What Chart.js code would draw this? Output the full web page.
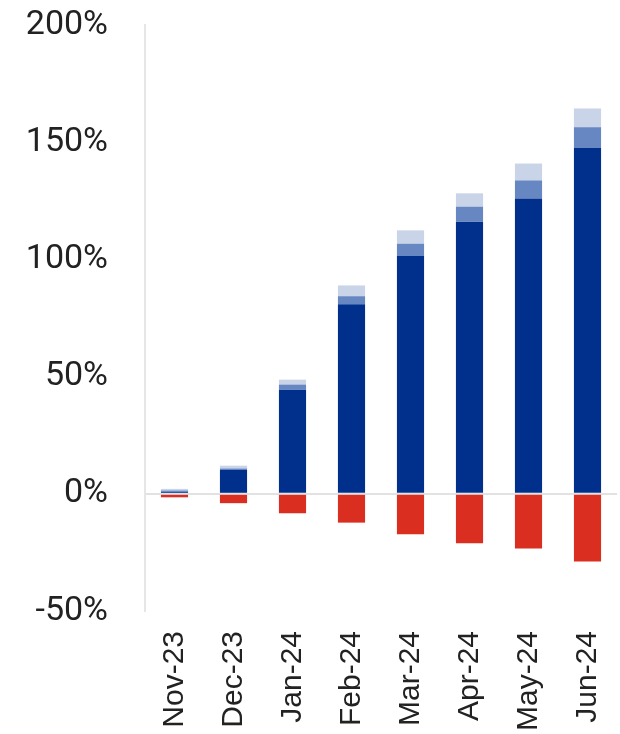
<!DOCTYPE html>
<html>
<head>
<meta charset="utf-8">
<script src="https://cdn.jsdelivr.net/npm/chart.js@4/dist/chart.umd.min.js"></script>
<style>
  html, body { margin: 0; padding: 0; background: #ffffff; }
  #wrap { width: 620px; height: 734px; }
</style>
</head>
<body>
<div id="wrap"><canvas id="c" width="620" height="734"></canvas></div>
<script>
// Monthly cumulative change, in percent
const months = ['Nov-23', 'Dec-23', 'Jan-24', 'Feb-24', 'Mar-24', 'Apr-24', 'May-24', 'Jun-24'];
const coreGain   = [0.8, 10.3, 44.3, 80.9, 101.4, 116.1, 126.0, 147.5];
const secondGain = [0.6, 0.5, 2.3, 3.4, 5.3, 6.4, 7.7, 8.9];
const thirdGain  = [0.7, 1.2, 2.1, 4.6, 5.7, 5.7, 7.2, 8.0];
const losses     = [-1.5, -4.0, -8.3, -12.3, -17.3, -21.1, -23.3, -28.9];
const yTicks     = [-50, 0, 50, 100, 150, 200];

const barOpts = { barPercentage: 0.46, categoryPercentage: 1.0, stack: 's', borderWidth: 0 };

new Chart(document.getElementById('c'), {
  type: 'bar',
  data: {
    labels: months,
    datasets: [
      Object.assign({ label: 'core', data: coreGain, backgroundColor: '#00308C' }, barOpts),
      Object.assign({ label: 'second', data: secondGain, backgroundColor: '#6687C2' }, barOpts),
      Object.assign({ label: 'third', data: thirdGain, backgroundColor: '#CAD4E8' }, barOpts),
      Object.assign({ label: 'losses', data: losses, backgroundColor: '#DA2E20' }, barOpts)
    ]
  },
  options: {
    responsive: false,
    animation: false,
    layout: { padding: { top: 25, right: 3, bottom: 0, left: 0 } },
    plugins: { legend: { display: false }, tooltip: { enabled: false } },
    scales: {
      x: {
        stacked: true,
        grid: { display: false, drawTicks: false },
        border: { display: false },
        ticks: {
          minRotation: 90, maxRotation: 90, padding: 20,
          color: '#222222',
          font: { family: 'Liberation Sans', size: 30 }
        },
        afterFit: s => { s.height = 123; s.paddingLeft = 0; s.paddingRight = 0; }
      },
      y: {
        stacked: true,
        min: -50, max: 200,
        afterBuildTicks: s => { s.ticks = yTicks.map(v => ({ value: v })); },
        grid: {
          drawTicks: false,
          lineWidth: 2,
          color: ctx => (ctx.tick && ctx.tick.value === 0) ? '#e2e2e2' : 'rgba(0,0,0,0)'
        },
        border: { display: true, color: '#e6e6e6', width: 2 },
        ticks: {
          padding: 37,
          color: '#222222',
          font: { family: 'Roboto', size: 34 },
          callback: v => v + '%'
        },
        afterFit: s => { s.width = 145; s.paddingTop = 0; s.paddingBottom = 0; }
      }
    }
  }
});
</script>
</body>
</html>
